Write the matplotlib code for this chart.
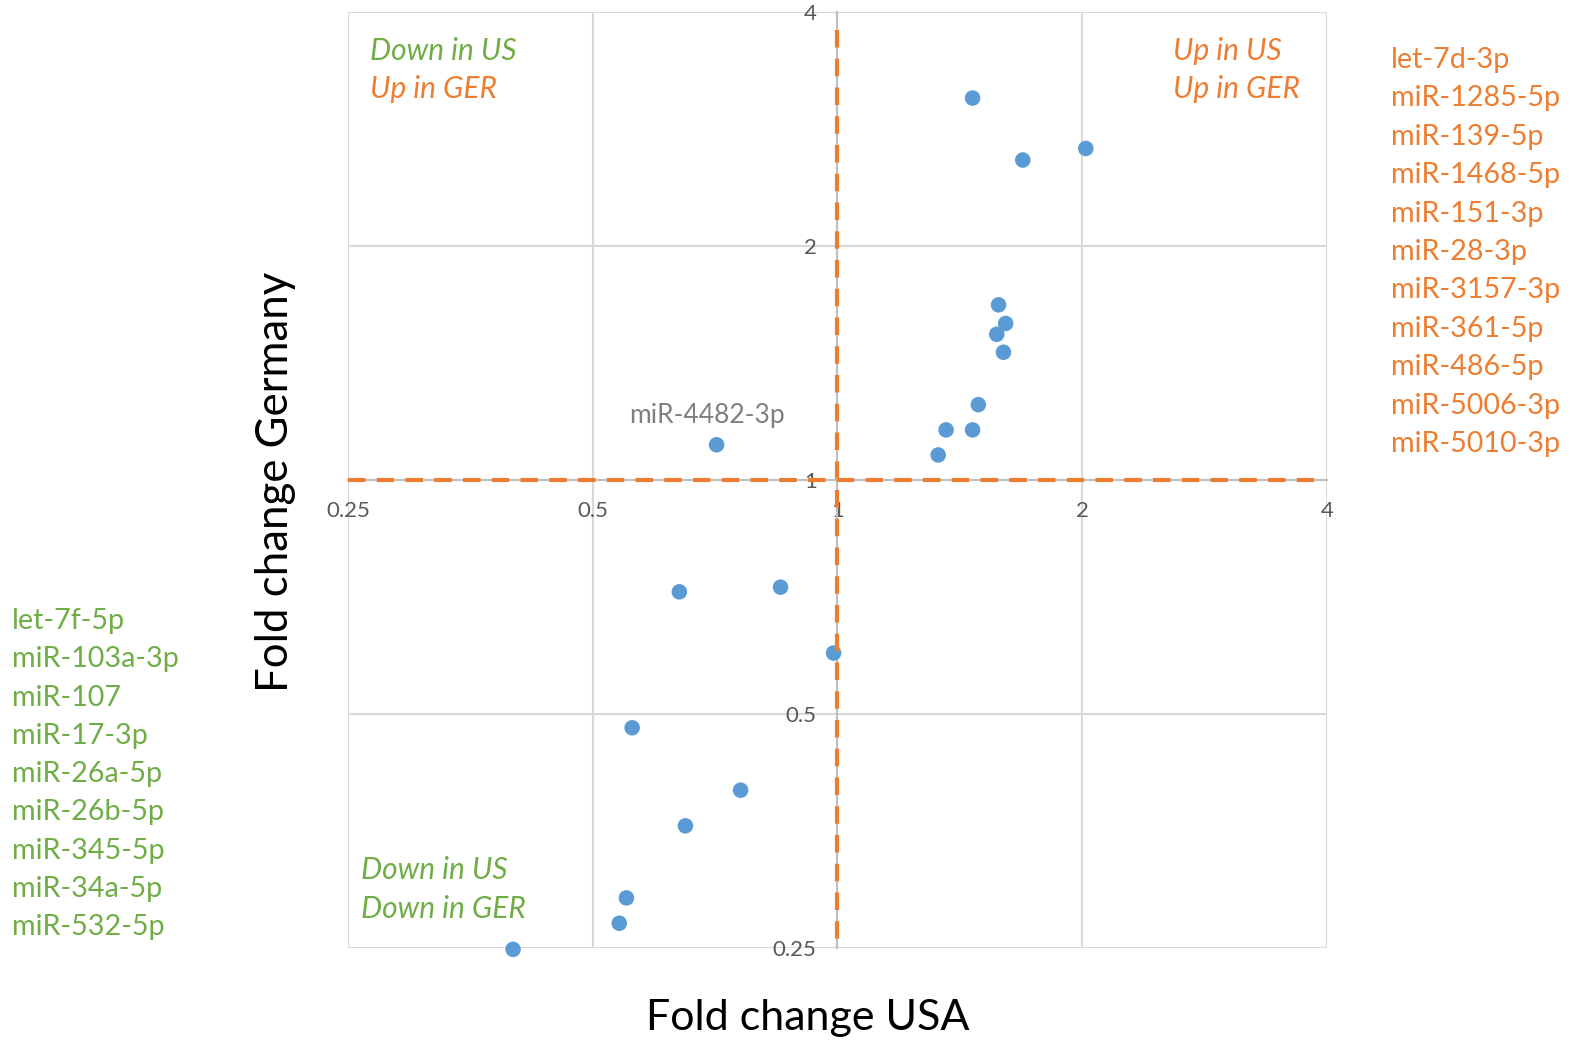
"""
Scatter of miRNA fold changes, USA vs Germany (log2 axes crossing at 1)
"""

# Imports
import matplotlib
matplotlib.use("Agg")
import matplotlib.pyplot as plt
import matplotlib.ticker as ticker

# Define constants
GREEN = "#70AD47"
ORANGE = "#ED7D31"
BLUE = "#5B9BD5"
GRID = "#D9D9D9"
TICK = "#595959"

plt.rcParams["font.family"] = ["Lato", "DejaVu Sans"]

# Data
fold_usa = [1.466, 1.69, 2.02, 1.578, 1.61, 1.57, 1.60, 1.49, 1.36, 1.466, 1.33,
            0.71, 0.639, 0.851, 0.989, 0.559, 0.760, 0.650, 0.550, 0.539, 0.399]
fold_ger = [3.10, 2.58, 2.67, 1.68, 1.59, 1.54, 1.46, 1.25, 1.16, 1.16, 1.077,
            1.11, 0.718, 0.728, 0.599, 0.480, 0.399, 0.359, 0.290, 0.269, 0.249]

ticks = [0.25, 0.5, 1, 2, 4]
tick_labels = ["0.25", "0.5", "1", "2", "4"]

up_both = ["let-7d-3p", "miR-1285-5p", "miR-139-5p", "miR-1468-5p", "miR-151-3p",
           "miR-28-3p", "miR-3157-3p", "miR-361-5p", "miR-486-5p", "miR-5006-3p",
           "miR-5010-3p"]
down_both = ["let-7f-5p", "miR-103a-3p", "miR-107", "miR-17-3p", "miR-26a-5p",
             "miR-26b-5p", "miR-345-5p", "miR-34a-5p", "miR-532-5p"]

# Prepare figure
fig = plt.figure(figsize=(15.7, 10.46), dpi=100)
ax = fig.add_axes([348 / 1570, 1 - 948 / 1046, 979 / 1570, 936 / 1046])

ax.set_xscale("log", base=2)
ax.set_yscale("log", base=2)
ax.set_xlim(0.25, 4)
ax.set_ylim(0.25, 4)

# Gridlines and plot border
for v in ticks:
    ax.axvline(v, color=GRID, lw=1.5, zorder=0)
    ax.axhline(v, color=GRID, lw=1.5, zorder=0)

# Axes cross at 1
for side in ["top", "right"]:
    ax.spines[side].set_visible(False)
for side in ["left", "bottom"]:
    ax.spines[side].set_position(("data", 1))
    ax.spines[side].set_color("#BFBFBF")
    ax.spines[side].set_linewidth(1.5)

ax.xaxis.set_major_locator(ticker.FixedLocator(ticks))
ax.yaxis.set_major_locator(ticker.FixedLocator(ticks))
ax.xaxis.set_major_formatter(ticker.FixedFormatter(tick_labels))
ax.yaxis.set_major_formatter(ticker.FixedFormatter(tick_labels))
ax.xaxis.set_minor_locator(ticker.NullLocator())
ax.yaxis.set_minor_locator(ticker.NullLocator())
ax.tick_params(axis="x", length=0, pad=15, labelsize=16, labelcolor=TICK)
ax.tick_params(axis="y", length=0, pad=15, labelsize=16, labelcolor=TICK)

# Dashed threshold lines
ax.plot([0.25, 3.87], [1, 1], color=ORANGE, lw=3, ls=(0, (4.2, 2.7)), zorder=4)
ax.plot([1, 1], [3.79, 0.252], color=ORANGE, lw=3, ls=(0, (4.2, 2.7)), zorder=4)

# Points
ax.scatter(fold_usa, fold_ger, s=125, color=BLUE, edgecolors="none", zorder=3,
           clip_on=False)
ax.annotate("miR-4482-3p", (fold_usa[11], fold_ger[11]), xytext=(-7, 12),
            textcoords="offset points", ha="center", va="bottom",
            fontsize=19, color="#7F7F7F")

# Quadrant labels
quad = dict(fontsize=21.5, style="italic", transform=ax.transAxes, va="center")
ax.text(22 / 978, 1 - 39 / 936, "Down in US", color=GREEN, **quad)
ax.text(22 / 978, 1 - 77 / 936, "Up in GER", color=ORANGE, **quad)
ax.text(824 / 978, 1 - 39 / 936, "Up in US", color=ORANGE, **quad)
ax.text(824 / 978, 1 - 77 / 936, "Up in GER", color=ORANGE, **quad)
ax.text(13 / 978, 1 - 858 / 936, "Down in US", color=GREEN, **quad)
ax.text(13 / 978, 1 - 897 / 936, "Down in GER", color=GREEN, **quad)

# Side lists of miRNAs
for i, name in enumerate(up_both):
    fig.text(1391 / 1570, 1 - (60 + i * 38.4) / 1046, name, color=ORANGE,
             fontsize=20.7, va="center", ha="left")
for i, name in enumerate(down_both):
    fig.text(12 / 1570, 1 - (621 + i * 38.25) / 1046, name, color=GREEN,
             fontsize=20.7, va="center", ha="left")

# Axis titles
fig.text(808 / 1570, 1 - 1018 / 1046, "Fold change USA", fontsize=31,
         ha="center", va="center")
fig.text(275 / 1570, 1 - 482 / 1046, "Fold change Germany", fontsize=31.5,
         ha="center", va="center", rotation=90)

fig.savefig("out.png", dpi=100)
